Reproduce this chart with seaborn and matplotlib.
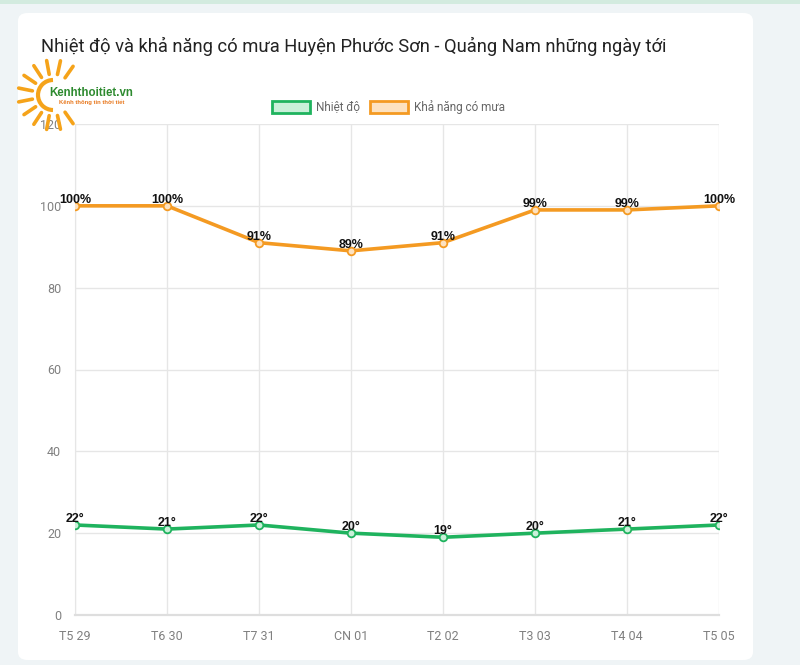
import numpy as np
import pandas as pd
import matplotlib
matplotlib.use("Agg")
import matplotlib.pyplot as plt
import seaborn as sns
from matplotlib.patches import FancyBboxPatch, Rectangle, Arc

days = ["T5 29", "T6 30", "T7 31", "CN 01", "T2 02", "T3 03", "T4 04", "T5 05"]
temperature = [22, 21, 22, 20, 19, 20, 21, 22]
rain_chance = [100, 100, 91, 89, 91, 99, 99, 100]
y_ticks = [0, 20, 40, 60, 80, 100, 120]
title = "Nhiệt độ và khả năng có mưa Huyện Phước Sơn - Quảng Nam những ngày tới"
series_names = ["Nhiệt độ", "Khả năng có mưa"]

GREEN = "#1fb35e"
GREEN_FILL = "#c9f0d9"
ORANGE = "#f49a22"
ORANGE_FILL = "#fde2c0"

sns.set_style("white")
plt.rcParams["font.family"] = ["Liberation Sans", "DejaVu Sans"]

fig = plt.figure(figsize=(8.0, 6.65), dpi=100)
fig.patch.set_facecolor("#eff4f6")

W, H = 800, 665
def fx(x): return x / W
def fy(y): return 1 - y / H

# top stripe
fig.patches.append(Rectangle((0, fy(4)), 1, 4 / H, transform=fig.transFigure,
                             facecolor="#d3ebdf", edgecolor="none", zorder=-10))
# white card
card = FancyBboxPatch((fx(18), fy(660)), (753 - 18) / W, (660 - 13) / H,
                      boxstyle="round,pad=0,rounding_size=0.012",
                      transform=fig.transFigure, facecolor="white",
                      edgecolor="none", zorder=-10)
fig.patches.append(card)

fig.text(fx(41), fy(46), title, fontsize=13.2, color="#222222",
         va="center", ha="left", family=["Roboto", "DejaVu Sans"])

ax = fig.add_axes([fx(75), fy(615), (719 - 75) / W, (615 - 124) / H])
ax.set_facecolor("none")

df = pd.DataFrame({"day": days * 2,
                   "value": temperature + rain_chance,
                   "series": [series_names[0]] * len(days) + [series_names[1]] * len(days)})
df["x"] = list(range(len(days))) * 2

sns.lineplot(data=df[df.series == series_names[0]], x="x", y="value", ax=ax,
             color=GREEN, linewidth=2.6, marker="o", markersize=5.5,
             markerfacecolor=GREEN_FILL, markeredgecolor=GREEN,
             markeredgewidth=1.3, zorder=3, legend=False)
sns.lineplot(data=df[df.series == series_names[1]], x="x", y="value", ax=ax,
             color=ORANGE, linewidth=2.6, marker="o", markersize=5.5,
             markerfacecolor=ORANGE_FILL, markeredgecolor=ORANGE,
             markeredgewidth=1.3, zorder=3, legend=False)

for i, v in enumerate(temperature):
    ax.annotate(f"{v}°", (i, v), xytext=(0, 0), textcoords="offset points",
                ha="center", va="bottom", fontsize=9, fontweight="bold",
                color="#111111", zorder=5, annotation_clip=False)
for i, v in enumerate(rain_chance):
    ax.annotate(f"{v}%", (i, v), xytext=(0, 0), textcoords="offset points",
                ha="center", va="bottom", fontsize=9, fontweight="bold",
                color="#111111", zorder=5, annotation_clip=False)

ax.set_xlim(0, len(days) - 1)
ax.set_ylim(0, 120)
ax.set_xticks(range(len(days)))
ax.set_xticklabels(days)
ax.set_yticks(y_ticks)
ax.set_xlabel("")
ax.set_ylabel("")
ax.grid(True, color="#e6e6e6", linewidth=1.0)
ax.set_axisbelow(True)
for s in ["top", "right"]:
    ax.spines[s].set_visible(False)
ax.spines["left"].set_color("#e6e6e6")
ax.spines["bottom"].set_color("#dedede")
ax.spines["bottom"].set_linewidth(1.6)
ax.tick_params(axis="both", colors="#e6e6e6", labelcolor="#808080",
               labelsize=9, length=7, width=1.0, pad=3)
ax.tick_params(axis="x", pad=4)
for lbl in ax.get_xticklabels() + ax.get_yticklabels():
    lbl.set_fontfamily(["Roboto", "DejaVu Sans"])

# legend
def legend_item(x0, color, fill, text):
    fig.patches.append(Rectangle((fx(x0), fy(113)), 38 / W, 12 / H,
                                 transform=fig.transFigure, facecolor=fill,
                                 edgecolor=color, linewidth=2.0, zorder=3))
    fig.text(fx(x0 + 44), fy(107), text, fontsize=8.5, color="#666666",
             va="center", ha="left", family=["Roboto", "DejaVu Sans"])
legend_item(272, GREEN, GREEN_FILL, series_names[0])
legend_item(370, ORANGE, ORANGE_FILL, series_names[1])

# logo
lax = fig.add_axes([fx(10), fy(135), 140 / W, 80 / H])
lax.set_xlim(10, 150)
lax.set_ylim(135, 55)
lax.axis("off")
cx, cy = 53, 95
lax.add_patch(Arc((cx, cy), 30, 30, theta1=90, theta2=270, color="#f5a31a", lw=3.0))
for ang in np.linspace(55, 305, 12):
    a = np.deg2rad(ang)
    r1, r2 = 21, 35
    lax.plot([cx + r1 * np.cos(a), cx + r2 * np.cos(a)],
             [cy - r1 * np.sin(a), cy - r2 * np.sin(a)],
             color="#f5a31a", lw=2.6, solid_capstyle="round")
lax.text(49, 93, "Kenhthoitiet.vn", fontsize=8.3, fontweight="bold",
         color="#2d8a2f", va="center", ha="left")
lax.text(59, 102, "Kênh thông tin thời tiết", fontsize=4.2,
         color="#e8781e", va="center", ha="left", fontweight="bold")

fig.savefig("out.png", dpi=100, facecolor=fig.get_facecolor())
